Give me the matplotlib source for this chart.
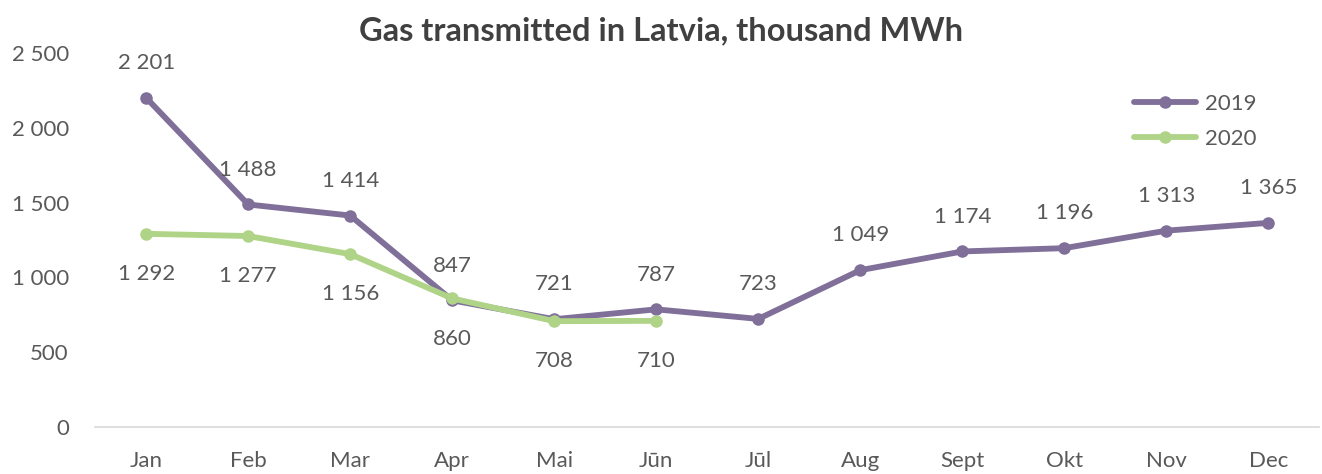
import matplotlib.pyplot as plt

months = ['Jan', 'Feb', 'Mar', 'Apr', 'Mai', 'Jūn', 'Jūl', 'Aug', 'Sept', 'Okt', 'Nov', 'Dec']
gas_2019 = [2201, 1488, 1414, 847, 721, 787, 723, 1049, 1174, 1196, 1313, 1365]
gas_2020 = [1292, 1277, 1156, 860, 708, 710]

c2019 = '#7f6f99'
c2020 = '#afd488'
txt = '#595959'

plt.rcParams['font.family'] = ['Lato', 'DejaVu Sans']


def fmt(v):
    return f'{v:,}'.replace(',', ' ')


fig = plt.figure(figsize=(13.22, 4.74), dpi=100)
ax = fig.add_axes([0.072, 0.099, 0.926, 0.789])

x19 = list(range(len(gas_2019)))
x20 = list(range(len(gas_2020)))
ax.plot(x19, gas_2019, color=c2019, lw=4.2, marker='o', ms=8, label='2019',
        solid_capstyle='round', zorder=3)
ax.plot(x20, gas_2020, color=c2020, lw=4.2, marker='o', ms=8, label='2020',
        solid_capstyle='round', zorder=4)

for i, v in enumerate(gas_2019):
    ax.annotate(fmt(v), (i, v), xytext=(0, 25), textcoords='offset points',
                ha='center', va='center', fontsize=16, color=txt)
for i, v in enumerate(gas_2020):
    ax.annotate(fmt(v), (i, v), xytext=(0, -29), textcoords='offset points',
                ha='center', va='center', fontsize=16, color=txt)

ax.set_xlim(-0.5, len(months) - 0.5)
ax.set_ylim(0, 2500)
ax.set_xticks(x19)
ax.set_xticklabels(months)
ax.set_yticks(range(0, 2501, 500))
ax.set_yticklabels([fmt(v) for v in range(0, 2501, 500)])
ax.tick_params(length=0, labelsize=16, colors=txt)
ax.tick_params(axis='x', pad=17)
ax.tick_params(axis='y', pad=19)
for s in ['top', 'right', 'left']:
    ax.spines[s].set_visible(False)
ax.spines['bottom'].set_color('#d9d9d9')
ax.spines['bottom'].set_linewidth(1.2)

fig.text(0.5, 0.935, 'Gas transmitted in Latvia, thousand MWh', ha='center',
         va='center', fontsize=23.5, fontweight='bold', color='#404040')

leg = ax.legend(loc='upper right', bbox_to_anchor=(0.965, 0.945), frameon=False,
                fontsize=16, handlelength=2.8, labelspacing=0.7, handletextpad=0.4)
for t in leg.get_texts():
    t.set_color(txt)

fig.savefig('out.png', dpi=100)
